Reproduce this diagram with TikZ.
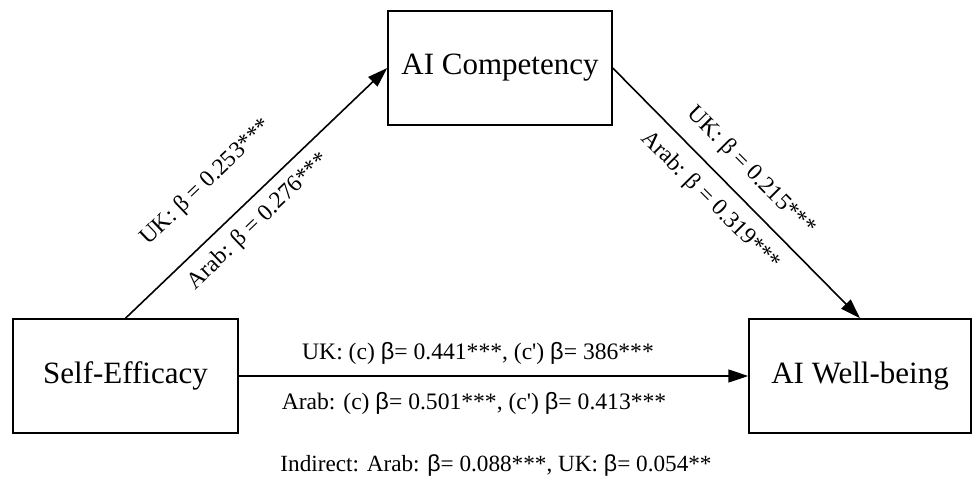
\documentclass[tikz,border=0pt]{standalone}
\usepackage{fontspec}
\setmainfont{Liberation Serif}
\newfontfamily\sfbeta{Liberation Sans}
\usetikzlibrary{arrows.meta}
\tikzset{
  box/.style={draw, line width=1.5pt, minimum width=#1, minimum height=114pt, inner sep=0pt, font=\fontsize{31}{31}\selectfont},
  conn/.style={line width=1.6pt, -{Triangle[length=20pt,width=13pt]}},
  difont/.style={font=\fontsize{23.5}{23.5}\selectfont, inner sep=0pt},
  hfont/.style={font=\fontsize{23.6}{23.6}\selectfont, inner sep=0pt, anchor=base},
}
\newcommand{\bsf}{{\sfbeta β}}
\newcommand{\apo}{\textquotesingle}
\begin{document}
\begin{tikzpicture}[x=1pt,y=-1pt]
\useasboundingbox (0,0) rectangle (973,501);
\node[box=224pt] (aic) at (500,68) {AI Competency};
\node[box=225pt] (se) at (125.5,376) {Self-Efficacy};
\node[box=222pt] (awb) at (860,376) {AI Well-being};
\draw[conn] (se.north) -- (aic.west);
\draw[conn] (aic.east) -- (awb.north);
\draw[conn] (se.east) -- (awb.west);
\node[difont, rotate=43.8] (l1) at (206.5,182.5) {UK: β = 0.253***};
\node[difont, rotate=43.8] (l2) at (258.5,221.5) {Arab: β = 0.276***};
\node[difont, rotate=-45.1] (r1) at (751,171.5) {UK: β = 0.215***};
\node[difont, rotate=-45.1] (r2) at (710.5,201) {Arab: β = 0.319***};
\node[hfont] (h1) at (478,359) {UK: (c) \bsf= 0.441***, (c\apo) \bsf= 386***};
\node[hfont] (h2) at (474,409) {Arab: (c) \bsf= 0.501***, (c\apo) \bsf= 0.413***};
\node[hfont, font=\fontsize{23.2}{23.2}\selectfont] (ind) at (496,471) {Indirect: Arab: \bsf= 0.088***, UK: \bsf= 0.054**};
\end{tikzpicture}
\end{document}
